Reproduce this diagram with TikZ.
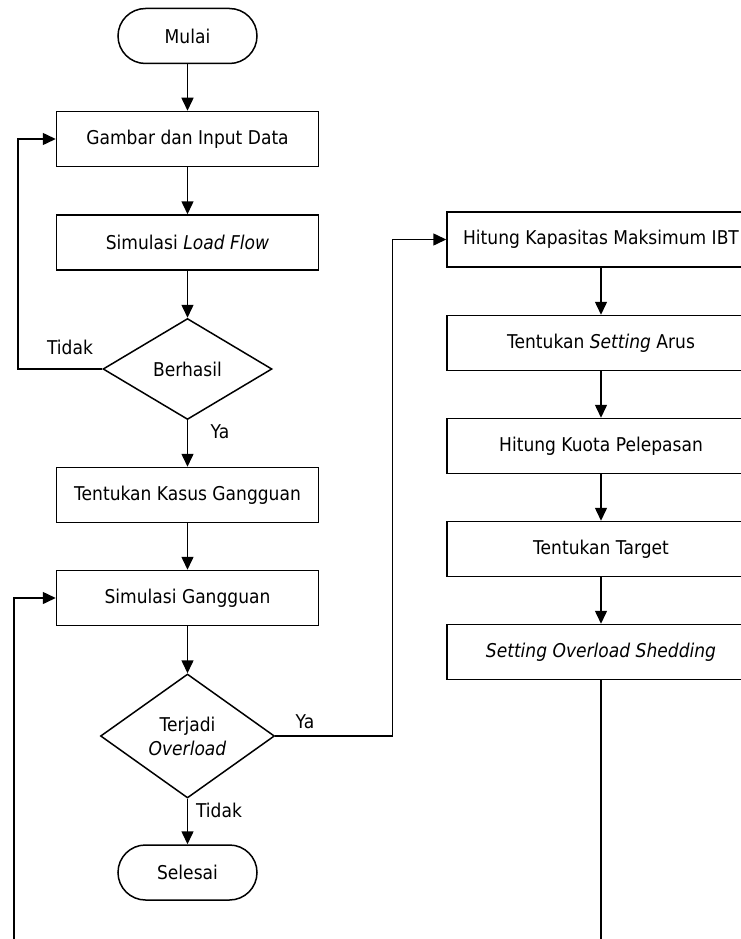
\documentclass[tikz,border=0pt]{standalone}
\usepackage{fontspec}
\setmainfont{DejaVu Sans}[FakeStretch=0.9]
\usetikzlibrary{shapes.geometric,arrows.meta}
\begin{document}
\begin{tikzpicture}[x=1pt,y=-1pt,
  every node/.style={font=\fontsize{19pt}{24pt}\selectfont, inner sep=0pt},
  procbox/.style={draw, line width=1.5pt, rectangle, minimum height=55pt, minimum width=262pt, align=center},
  rbox/.style={procbox, minimum width=308pt},
  term/.style={draw, line width=1.5pt, rectangle, rounded corners=27.5pt, minimum height=55pt, minimum width=139pt},
  decide/.style={draw, line width=1.5pt, diamond, align=center},
  conn/.style={line width=1.5pt, -{Triangle[length=13pt,width=12pt]}},
  plain/.style={line width=1.5pt},
  lbl/.style={font=\fontsize{19pt}{24pt}\selectfont}
]
\useasboundingbox (0,0) rectangle (741,939);
\fill[white] (0,0) rectangle (741,939);

% left column
\node[term] (mulai) at (187.5,36) {Mulai};
\node[procbox] (gambar) at (187.5,139) {Gambar dan Input Data};
\node[procbox] (lf) at (187.5,242.5) {Simulasi \textit{Load Flow}};
\node[decide, minimum width=169pt, minimum height=101pt] (berhasil) at (187.5,369) {Berhasil};
\node[procbox] (kasus) at (187.5,495) {Tentukan Kasus Gangguan};
\node[procbox] (simg) at (187.5,598) {Simulasi Gangguan};
\node[decide, minimum width=174pt, minimum height=124pt] (terjadi) at (187.5,736) {Terjadi\\\textit{Overload}};
\node[term] (selesai) at (187.5,872.5) {Selesai};

% right column
\node[rbox] (ibt) at (601,239.5) {Hitung Kapasitas Maksimum IBT};
\node[rbox] (arus) at (601,343) {Tentukan \textit{Setting} Arus};
\node[rbox] (kuota) at (601,446) {Hitung Kuota Pelepasan};
\node[rbox] (target) at (601,549) {Tentukan Target};
\node[rbox] (shed) at (601,652) {\textit{Setting Overload Shedding}};

% free ends
\coordinate (leftend) at (14,945);
\coordinate (rightend) at (601,945);

% labels
\node[lbl] (tidak1) at (70,347) {Tidak};
\node[lbl] (ya1) at (220,432) {Ya};
\node[lbl] (ya2) at (305,722) {Ya};
\node[lbl] (tidak2) at (219,810) {Tidak};

% connectors
\draw[conn] (mulai) -- (gambar);
\draw[conn] (gambar) -- (lf);
\draw[conn] (lf) -- (berhasil.north);
\draw[conn] (berhasil.south) -- (kasus);
\draw[conn] (berhasil.west) -- (18,369) -- (18,139) -- (gambar.west);
\draw[conn] (kasus) -- (simg);
\draw[conn] (simg) -- (terjadi.north);
\draw[conn] (terjadi.east) -- (392.7,736) -- (392.7,239.5) -- (ibt.west);
\draw[conn] (terjadi.south) -- (selesai);
\draw[conn] (leftend) -- (14,598) -- (simg.west);
\draw[conn] (ibt) -- (arus);
\draw[conn] (arus) -- (kuota);
\draw[conn] (kuota) -- (target);
\draw[conn] (target) -- (shed);
\draw[plain] (shed) -- (rightend);
\end{tikzpicture}
\end{document}
